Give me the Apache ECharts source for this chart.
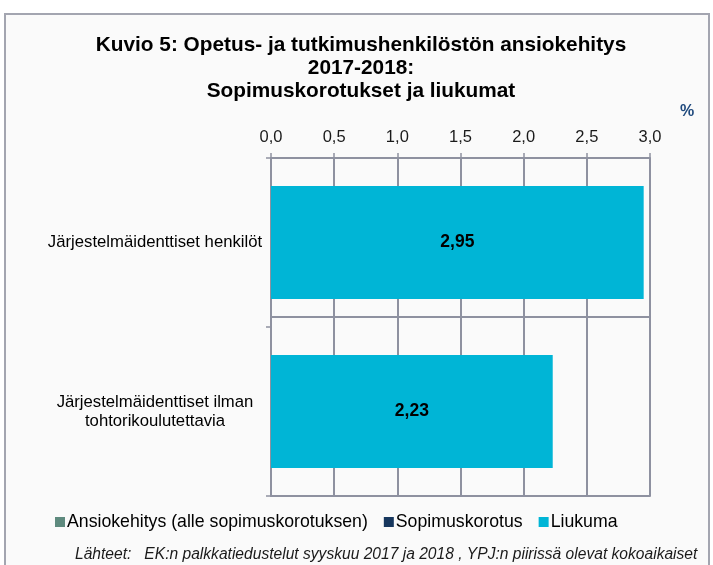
<!DOCTYPE html>
<html>
<head>
<meta charset="utf-8">
<script src="https://cdn.jsdelivr.net/npm/echarts@6/dist/echarts.min.js"></script>
<style>
  html, body { margin: 0; padding: 0; background: #ffffff; }
  #frame {
    position: absolute; left: 4px; top: 13px; width: 702px; height: 600px;
    border: 2px solid #a3a5b0; background: #fafafa;
  }
  #chart { position: absolute; left: 0; top: 0; width: 713px; height: 565px; }
</style>
</head>
<body>
<div id="frame"></div>
<div id="chart"></div>
<script>
const categories = [
  "Järjestelmäidenttiset henkilöt",
  "Järjestelmäidenttiset ilman\ntohtorikoulutettavia"
]
const ansiokehitys = [0, 0]
const sopimuskorotus = [0, 0]
const liukuma = [2.95, 2.23]

const font = "'Liberation Sans', Arial, sans-serif"
const gridColor = "#8e91a0"

const chart = echarts.init(document.getElementById("chart"))

chart.setOption({
  animation: false,
  backgroundColor: "transparent",
  textStyle: { fontFamily: font },
  title: [
    {
      text: "Kuvio 5: Opetus- ja tutkimushenkilöstön ansiokehitys\n2017-2018:\nSopimuskorotukset ja liukumat",
      left: 356,
      top: 29,
      textAlign: "center",
      textStyle: { fontFamily: font, fontSize: 20.8, fontWeight: "bold", color: "#000", lineHeight: 22.8 }
    },
    {
      text: "%",
      left: 675,
      top: 99,
      textStyle: { fontFamily: font, fontSize: 16, fontWeight: "bold", color: "#1f497d" }
    },
    {
      text: "Lähteet:   EK:n palkkatiedustelut syyskuu 2017 ja 2018 , YPJ:n piirissä olevat kokoaikaiset",
      left: 70,
      top: 542,
      textStyle: { fontFamily: font, fontSize: 15.6, fontStyle: "italic", fontWeight: "normal", color: "#1a1a1a" }
    }
  ],
  legend: {
    left: 50,
    top: 508,
    itemWidth: 10,
    itemHeight: 10,
    itemGap: 16,
    icon: "rect",
    textStyle: { fontFamily: font, fontSize: 17.7, color: "#000", padding: [0, 0, 0, -3] },
    data: ["Ansiokehitys (alle sopimuskorotuksen)", "Sopimuskorotus", "Liukuma"]
  },
  grid: { left: 271, right: 63, top: 158, bottom: 69 },
  xAxis: [
    {
      type: "value",
      position: "top",
      min: 0,
      max: 3,
      interval: 0.5,
      axisLine: { show: true, lineStyle: { color: gridColor, width: 2 } },
      axisTick: { show: true, length: 5, lineStyle: { color: gridColor, width: 1.5 } },
      axisLabel: {
        margin: 12,
        fontFamily: font,
        fontSize: 16.5,
        color: "#1a1a1a",
        formatter: (v) => v.toFixed(1).replace(".", ",")
      },
      splitLine: { show: true, lineStyle: { color: gridColor, width: 2 } }
    },
    {
      type: "value",
      position: "top",
      offset: -159,
      min: 0,
      max: 3,
      axisLine: { show: true, lineStyle: { color: gridColor, width: 2 } },
      axisTick: { show: false },
      axisLabel: { show: false },
      splitLine: { show: false }
    },
    {
      type: "value",
      position: "bottom",
      min: 0,
      max: 3,
      axisLine: { show: true, lineStyle: { color: gridColor, width: 2 } },
      axisTick: { show: false },
      axisLabel: { show: false },
      splitLine: { show: false }
    }
  ],
  yAxis: {
    type: "category",
    inverse: true,
    data: categories,
    axisLine: { show: true, lineStyle: { color: gridColor, width: 2 } },
    axisTick: { show: true, length: 5, lineStyle: { color: gridColor, width: 1.5 } },
    axisLabel: {
      align: "center",
      margin: 116,
      fontFamily: font,
      fontSize: 16.7,
      lineHeight: 19,
      color: "#000"
    }
  },
  series: [
    {
      name: "Ansiokehitys (alle sopimuskorotuksen)",
      type: "bar",
      stack: "a",
      barWidth: 113,
      itemStyle: { color: "#5e8a7e" },
      data: ansiokehitys
    },
    {
      name: "Sopimuskorotus",
      type: "bar",
      stack: "a",
      barWidth: 113,
      itemStyle: { color: "#17375e" },
      data: sopimuskorotus
    },
    {
      name: "Liukuma",
      type: "bar",
      stack: "a",
      barWidth: 113,
      itemStyle: { color: "#00b5d6" },
      label: {
        show: true,
        position: "inside",
        fontFamily: font,
        fontSize: 17.5,
        fontWeight: "bold",
        color: "#000",
        formatter: (p) => p.value.toFixed(2).replace(".", ",")
      },
      data: liukuma
    }
  ]
})
</script>
</body>
</html>
